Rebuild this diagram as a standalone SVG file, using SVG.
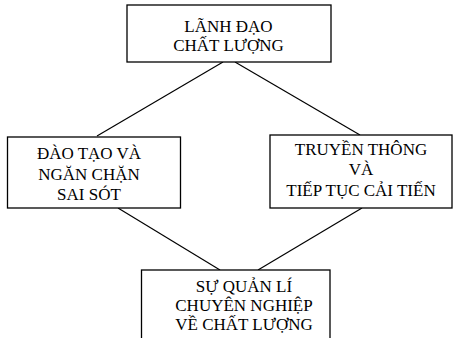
<svg xmlns="http://www.w3.org/2000/svg" width="453" height="338" viewBox="0 0 453 338">
<style>
.box{fill:#fff;stroke:#000;stroke-width:1.3}
.lbl{font-family:"Liberation Serif","Times New Roman",serif;font-size:17px;fill:#000;text-anchor:middle}
.con{stroke:#000;stroke-width:1.2;fill:none}
</style>
<rect width="453" height="338" fill="#fff"/>
<g id="connectors">
<line class="con" x1="223" y1="62" x2="97" y2="136"/>
<line class="con" x1="235" y1="62" x2="360" y2="135"/>
<line class="con" x1="118" y1="208" x2="220" y2="270"/>
<line class="con" x1="362" y1="208" x2="258" y2="270"/>
</g>
<g id="n1">
<rect class="box" x="127" y="5" width="204" height="57"/>
<text class="lbl" x="228.5" y="31.5">LÃNH ĐẠO</text>
<text class="lbl" x="228.5" y="50.5">CHẤT LƯỢNG</text>
</g>
<g id="n2">
<rect class="box" x="7.5" y="137" width="173" height="71"/>
<text class="lbl" x="89" y="159">ĐÀO TẠO VÀ</text>
<text class="lbl" x="89" y="179.5">NGĂN CHẶN</text>
<text class="lbl" x="89" y="199.5">SAI SÓT</text>
</g>
<g id="n3">
<rect class="box" x="270" y="135" width="182" height="73"/>
<text class="lbl" x="361" y="155">TRUYỀN THÔNG</text>
<text class="lbl" x="361" y="175">VÀ</text>
<text class="lbl" x="361" y="196">TIẾP TỤC CẢI TIẾN</text>
</g>
<g id="n4">
<rect class="box" x="141.5" y="270" width="188.5" height="80"/>
<text class="lbl" x="244" y="292">SỰ QUẢN LÍ</text>
<text class="lbl" x="244" y="311">CHUYÊN NGHIỆP</text>
<text class="lbl" x="244" y="330">VỀ CHẤT LƯỢNG</text>
</g>
</svg>
